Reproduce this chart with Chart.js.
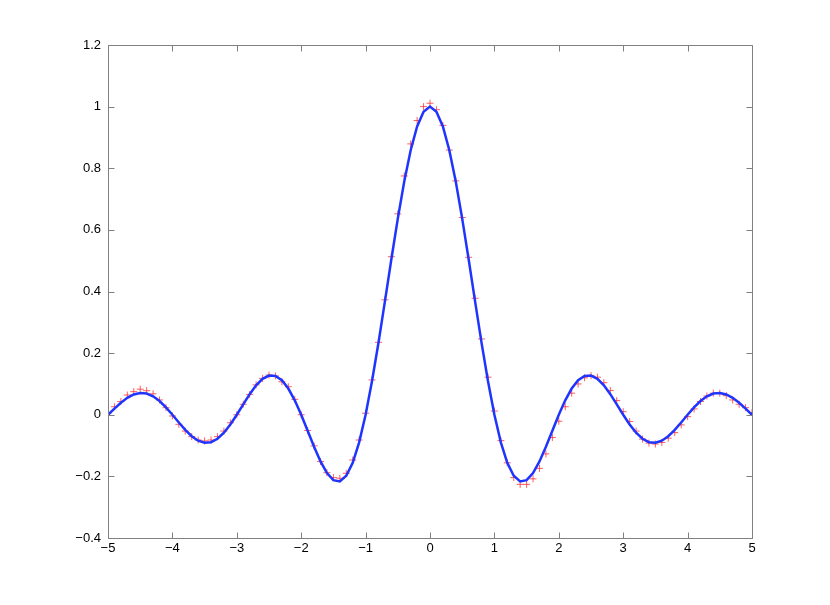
<!DOCTYPE html>
<html>
<head>
<meta charset="utf-8">
<script src="https://cdn.jsdelivr.net/npm/chart.js@4/dist/chart.umd.min.js"></script>
<style>
html,body{margin:0;padding:0;background:#fff;}
canvas{display:block;}
</style>
</head>
<body>
<canvas id="c" width="830" height="605"></canvas>
<script>
const xValues = [-5.0,-4.9,-4.8,-4.7,-4.6,-4.5,-4.4,-4.3,-4.2,-4.1,-4.0,-3.9,-3.8,-3.7,-3.6,-3.5,-3.4,-3.3,-3.2,-3.1,-3.0,-2.9,-2.8,-2.7,-2.6,-2.5,-2.4,-2.3,-2.2,-2.1,-2.0,-1.9,-1.8,-1.7,-1.6,-1.5,-1.4,-1.3,-1.2,-1.1,-1.0,-0.9,-0.8,-0.7,-0.6,-0.5,-0.4,-0.3,-0.2,-0.1,0.0,0.1,0.2,0.3,0.4,0.5,0.6,0.7,0.8,0.9,1.0,1.1,1.2,1.3,1.4,1.5,1.6,1.7,1.8,1.9,2.0,2.1,2.2,2.3,2.4,2.5,2.6,2.7,2.8,2.9,3.0,3.1,3.2,3.3,3.4,3.5,3.6,3.7,3.8,3.9,4.0,4.1,4.2,4.3,4.4,4.5,4.6,4.7,4.8,4.9,5.0];

const curveValues = [0,0.0201,0.0390,0.0548,0.0658,0.0707,0.0688,0.0599,0.0446,0.0240,
0,-0.0252,-0.0492,-0.0696,-0.0841,-0.0909,-0.0890,-0.0780,-0.0585,-0.0317,
0,0.0339,0.0668,0.0954,0.1164,0.1273,0.1261,0.1120,0.0850,0.0468,
0,-0.0518,-0.1039,-0.1515,-0.1892,-0.2122,-0.2162,-0.1981,-0.1559,-0.0894,
0,0.1093,0.2339,0.3679,0.5046,0.6366,0.7568,0.8584,0.9355,0.9836,
1,
0.9836,0.9355,0.8584,0.7568,0.6366,0.5046,0.3679,0.2339,0.1093,0,
-0.0894,-0.1559,-0.1981,-0.2162,-0.2122,-0.1892,-0.1515,-0.1039,-0.0518,0,
0.0468,0.0850,0.1120,0.1261,0.1273,0.1164,0.0954,0.0668,0.0339,0,
-0.0317,-0.0585,-0.0780,-0.0890,-0.0909,-0.0841,-0.0696,-0.0492,-0.0252,0,
0.0240,0.0446,0.0599,0.0688,0.0707,0.0658,0.0548,0.0390,0.0201,0];

const sampleValues = [0.005,0.026,0.043,0.064,0.075,0.083,0.078,0.068,0.048,0.023,
-0.004,-0.031,-0.053,-0.071,-0.082,-0.085,-0.082,-0.071,-0.053,-0.026,
0.0,0.034,0.066,0.097,0.118,0.129,0.126,0.107,0.091,0.050,
0.0,-0.051,-0.101,-0.152,-0.188,-0.204,-0.206,-0.190,-0.147,-0.082,
0.005,0.113,0.235,0.373,0.513,0.652,0.775,0.879,0.955,1.0,
1.011,
0.990,0.939,0.859,0.759,0.640,0.511,0.378,0.246,0.122,0.012,
-0.084,-0.156,-0.204,-0.226,-0.226,-0.208,-0.174,-0.127,-0.074,-0.021,
0.026,0.070,0.100,0.120,0.127,0.122,0.104,0.079,0.046,0.010,
-0.022,-0.053,-0.079,-0.092,-0.095,-0.090,-0.076,-0.058,-0.033,-0.006,
0.019,0.043,0.061,0.070,0.070,0.062,0.048,0.034,0.023,0.007];

const xTicks = [-5,-4,-3,-2,-1,0,1,2,3,4,5];
const yTicks = [-0.4,-0.2,0,0.2,0.4,0.6,0.8,1,1.2];

function fmt(v){
  const s = String(Math.round(v*10)/10);
  return s.replace('-', '\u2212');
}

const boxPlugin = {
  id: 'box',
  afterDatasetsDraw(chart){
    const ctx = chart.ctx, a = chart.chartArea;
    const xs = chart.scales.x, ys = chart.scales.y;
    ctx.save();
    ctx.strokeStyle = '#808080';
    ctx.lineWidth = 1;
    ctx.beginPath();
    const L = Math.round(a.left)+0.5, R = Math.round(a.right)+0.5, T = Math.round(a.top)+0.5, B = Math.round(a.bottom)+0.5;
    ctx.rect(L, T, R-L, B-T);
    const tl = 6;
    xTicks.forEach(v=>{
      const p = Math.round(xs.getPixelForValue(v))+0.5;
      ctx.moveTo(p, B); ctx.lineTo(p, B-tl);
      ctx.moveTo(p, T); ctx.lineTo(p, T+tl);
    });
    yTicks.forEach(v=>{
      const p = Math.round(ys.getPixelForValue(v))+0.5;
      ctx.moveTo(L, p); ctx.lineTo(L+tl, p);
      ctx.moveTo(R, p); ctx.lineTo(R-tl, p);
    });
    ctx.stroke();
    ctx.restore();
  }
};

new Chart(document.getElementById('c'), {
  type: 'scatter',
  data: {
    datasets: [
      {
        label: 'curve',
        data: xValues.map((x,i)=>({x:x, y:curveValues[i]})),
        showLine: true,
        borderColor: '#1f35ff',
        borderWidth: 2.5,
        pointRadius: 0,
        tension: 0,
        order: 0
      },
      {
        label: 'samples',
        data: xValues.map((x,i)=>({x:x, y:sampleValues[i]})),
        showLine: false,
        pointStyle: 'cross',
        pointRadius: 3.5,
        pointBorderWidth: 1,
        borderColor: 'rgba(255,40,40,0.75)',
        backgroundColor: 'rgba(255,40,40,0.75)',
        order: 1
      }
    ]
  },
  options: {
    responsive: false,
    animation: false,
    devicePixelRatio: 1,
    layout: { padding: { left: 0, top: 45, right: 78, bottom: 0 } },
    plugins: { legend: { display: false }, tooltip: { enabled: false } },
    scales: {
      x: {
        type: 'linear',
        min: -5, max: 5,
        afterFit(s){ s.height = 67; },
        afterBuildTicks(s){ s.ticks = xTicks.map(v=>({value:v})); },
        grid: { display: false, drawTicks: false },
        border: { display: false },
        ticks: {
          padding: 3,
          color: '#000',
          font: { family: 'Liberation Sans, Arial, sans-serif', size: 13 },
          maxRotation: 0,
          autoSkip: false,
          callback: (v)=>fmt(v)
        }
      },
      y: {
        type: 'linear',
        min: -0.4, max: 1.2,
        afterFit(s){ s.width = 108; },
        afterBuildTicks(s){ s.ticks = yTicks.map(v=>({value:v})); },
        grid: { display: false, drawTicks: false },
        border: { display: false },
        ticks: {
          padding: 7,
          color: '#000',
          font: { family: 'Liberation Sans, Arial, sans-serif', size: 13 },
          autoSkip: false,
          callback: (v)=>fmt(v)
        }
      }
    }
  },
  plugins: [boxPlugin]
});
</script>
</body>
</html>
